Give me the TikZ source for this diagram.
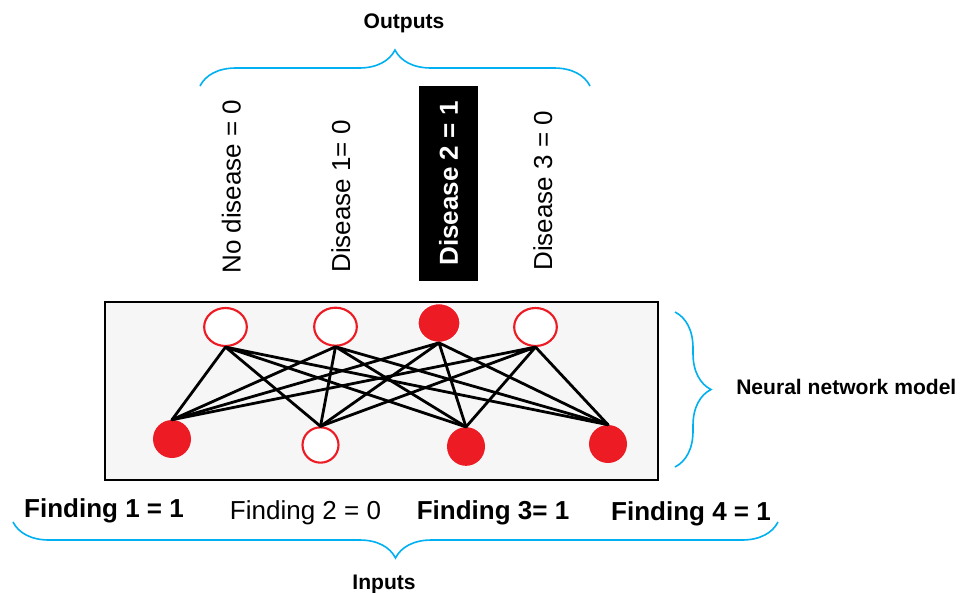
\documentclass[tikz,border=0pt]{standalone}
\usepackage{fontspec}
\setmainfont{Liberation Sans}
\usetikzlibrary{positioning,shapes.geometric,decorations.pathreplacing}
\definecolor{NetRed}{RGB}{237,28,36}
\definecolor{BraceBlue}{RGB}{0,176,240}
\definecolor{PanelGray}{RGB}{246,246,246}

\begin{document}
\begin{tikzpicture}[x=0.75pt,y=-0.75pt, every node/.style={inner sep=0pt},
    neuron/.style={ellipse, draw=NetRed, line width=1.6pt, fill=white,
        minimum width=32pt, minimum height=28.5pt},
    fired/.style={ellipse, fill=NetRed, minimum width=28.5pt, minimum height=28.5pt},
    link/.style={line width=2.1pt, line cap=round},
    curly/.style={draw=BraceBlue, line width=1.2pt, decorate,
        decoration={brace, amplitude=27pt}},
    outlabel/.style={rotate=90, anchor=base west, font=\fontsize{19.5}{23}\selectfont},
    inlabel/.style={anchor=base, font=\fontsize{19.5}{23}\selectfont},
    inlabelb/.style={inlabel, font=\fontsize{19.5}{23}\selectfont\bfseries},
    tag/.style={font=\fontsize{15.8}{18}\selectfont\bfseries}]
  \useasboundingbox (0,0) rectangle (961,593);

  % model panel
  \node[draw, line width=2pt, fill=PanelGray, minimum width=414.75pt,
        minimum height=133.5pt] (model) at (381.5,391) {};

  % output layer
  \node[neuron] (o0) at (225.5,327) {};
  \node[neuron] (o1) at (335.5,326.7) {};
  \node[fired, draw=white, line width=0.8pt, minimum width=31.5pt,
        minimum height=29pt] (o2) at (439,323) {};
  \node[neuron] (o3) at (535.5,327) {};

  % input layer
  \node[fired] (i1) at (172,439) {};
  \node[neuron, minimum width=27pt, minimum height=26.5pt] (i2) at (320.5,445) {};
  \node[fired, minimum height=29pt] (i3) at (466,446.5) {};
  \node[fired] (i4) at (608,444) {};

  \draw[link] (o0.south) -- (i1.north) (o0.south) -- (i2.north)
              (o0.south) -- (i3.north) (o0.south) -- (i4.north);
  \draw[link] (o1.south) -- (i1.north) (o1.south) -- (i2.north)
              (o1.south) -- (i3.north) (o1.south) -- (i4.north);
  \draw[link] (o2.south) -- (i1.north) (o2.south) -- (i2.north)
              (o2.south) -- (i3.north) (o2.south) -- (i4.north);
  \draw[link] (o3.south) -- (i1.north) (o3.south) -- (i2.north)
              (o3.south) -- (i3.north) (o3.south) -- (i4.north);

  % output labels
  \node[outlabel] (l0) at (240.5,274) {No disease = 0};
  \node[outlabel] (l1) at (350,273) {Disease 1= 0};
  \node[rotate=90, fill=black, text=white, minimum width=146pt, minimum height=44pt,
        font=\fontsize{19.5}{23}\selectfont\bfseries] (l2) at (448.5,183.5) {Disease 2 = 1};
  \node[outlabel] (l3) at (552,271) {Disease 3 = 0};

  % input labels
  \node[inlabelb] (f1) at (104,517) {Finding 1 = 1};
  \node[inlabel] (f2) at (305.5,519) {Finding 2 = 0};
  \node[inlabelb] (f3) at (493,519) {Finding 3= 1};
  \node[inlabelb] (f4) at (691,520) {Finding 4 = 1};

  % braces
  \coordinate (outL) at (200,86);
  \coordinate (outR) at (590,86);
  \coordinate (inL) at (13,522);
  \coordinate (inR) at (778,522);
  \coordinate (netT) at (675,312);
  \coordinate (netB) at (675,467);
  \draw[curly] (outL) -- (outR);
  \draw[curly] (inR) -- (inL);
  \draw[curly] (netT) -- (netB);

  \node[tag, anchor=base] (outputs) at (404,28) {Outputs};
  \node[tag, anchor=base] (inputs) at (384,589) {Inputs};
  \node[tag, anchor=base west] (nnm) at (736,394) {Neural network model};
\end{tikzpicture}
\end{document}
